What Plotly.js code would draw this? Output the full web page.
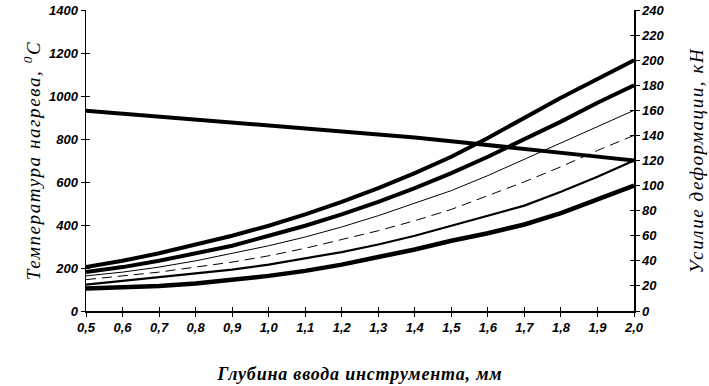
<!DOCTYPE html>
<html>
<head>
<meta charset="utf-8">
<script src="https://cdn.plot.ly/plotly-3.0.1.min.js"></script>
<style>
html,body{margin:0;padding:0;background:#fff;}
#chart{width:709px;height:386px;}
#chart .ytitle{letter-spacing:1.6px;}
#chart .y2title{letter-spacing:1.6px;}
#chart .xtitle{letter-spacing:0.8px;}
</style>
</head>
<body>
<div id="chart"></div>
<script>
// Depth categories (mm)
const depthLabels = ["0,5","0,6","0,7","0,8","0,9","1,0","1,1","1,2","1,3","1,4","1,5","1,6","1,7","1,8","1,9","2,0"];
const depthIndex = depthLabels.map((_, i) => i);

// Heating temperature, °C (left axis)
const temperature = [932, 918, 905, 892, 879, 866, 852, 838, 823, 807, 790, 773, 756, 737, 718, 700];

// Deformation force, kN (right axis)
const force1 = [35, 40, 46, 53, 60, 68, 77, 87, 98, 110, 123, 138, 154, 170, 185, 200];
const force2 = [31, 35, 40, 46, 52, 60, 68, 77, 87, 98, 110, 123, 137, 151, 166, 180];
const force3 = [28, 31, 35, 40, 46, 52, 59, 67, 76, 86, 96, 108, 121, 134, 147, 160];
const force4 = [25, 28, 31, 35, 39, 44, 50, 57, 64, 72, 81, 92, 103, 115, 128, 140];
const force5 = [21, 24, 27, 30, 33, 37, 42, 47, 53, 60, 68, 76, 84, 95, 107, 120];
const force6 = [18, 19, 20, 22, 25, 28, 32, 37, 43, 49, 56, 62, 69, 78, 89, 100];

const leftTicks = [0,200,400,600,800,1000,1200,1400];
const rightTicks = [0,20,40,60,80,100,120,140,160,180,200,220,240];

const tickFont = {family: "Liberation Sans Narrow, Liberation Sans, Arial", size: 13, color: "#000", weight: "bold", style: "italic"};
const titleFont = {family: "Liberation Serif, Times New Roman", size: 19, color: "#000", style: "italic"};
const xTitleFont = {family: "Liberation Serif, Times New Roman", size: 18, color: "#000", style: "italic"};

function ln(y, w, dash, axis) {
  return {x: depthIndex, y: y, type: "scatter", mode: "lines", yaxis: axis,
          line: {color: "#000", width: w, dash: dash || "solid"}, hoverinfo: "skip", showlegend: false};
}

const traces = [
  ln(force6, 4.5, null, "y2"),
  ln(force5, 2.2, null, "y2"),
  ln(force4, 1, "10px,6px", "y2"),
  ln(force3, 1, null, "y2"),
  ln(force2, 4, null, "y2"),
  ln(force1, 4, null, "y2"),
  ln(temperature, 4, null, "y"),
  {x: [], y: [], xaxis: "x2", yaxis: "y3", type: "scatter", mode: "lines", showlegend: false, hoverinfo: "skip"},
  {x: [], y: [], xaxis: "x2", yaxis: "y4", type: "scatter", mode: "lines", showlegend: false, hoverinfo: "skip"}
];

const common = {showgrid: false, zeroline: false, showline: true, linecolor: "#000", linewidth: 1.5,
                tickcolor: "#000", tickwidth: 1, ticklen: 4, fixedrange: true};

const layout = {
  width: 709, height: 386,
  margin: {l: 86, r: 75, t: 10, b: 75},
  paper_bgcolor: "#fff", plot_bgcolor: "#fff",
  showlegend: false,
  xaxis: Object.assign({}, common, {
    range: [0, 15], tickmode: "array", tickvals: depthIndex, ticktext: depthLabels,
    ticks: "outside", tickfont: tickFont,
    title: {text: "<b>Глубина ввода инструмента, мм</b>", font: xTitleFont, standoff: 33}
  }),
  yaxis: Object.assign({}, common, {
    range: [0, 1400], tickmode: "array", tickvals: leftTicks, ticks: "outside", tickfont: tickFont,
    title: {text: "Температура нагрева, <sup>0</sup>C", font: titleFont, standoff: 3}
  }),
  yaxis2: Object.assign({}, common, {
    range: [0, 240], tickmode: "array", tickvals: rightTicks, ticks: "outside", tickfont: tickFont,
    overlaying: "y", side: "right", anchor: "x",
    title: {text: "Усилие деформации, кН", font: titleFont, standoff: 26}
  }),
  xaxis2: Object.assign({}, common, {
    range: [0, 15], tickmode: "array", tickvals: depthIndex, ticks: "inside", showticklabels: false,
    overlaying: "x", anchor: "y3"
  }),
  yaxis3: Object.assign({}, common, {
    range: [0, 1400], tickmode: "array", tickvals: leftTicks, ticks: "inside", showticklabels: false,
    overlaying: "y", anchor: "x2", side: "left"
  }),
  yaxis4: Object.assign({}, common, {
    range: [0, 240], tickmode: "array", tickvals: rightTicks, ticks: "inside", showticklabels: false,
    overlaying: "y", anchor: "x2", side: "right"
  })
};

Plotly.newPlot("chart", traces, layout, {staticPlot: true, displayModeBar: false});
</script>
</body>
</html>
